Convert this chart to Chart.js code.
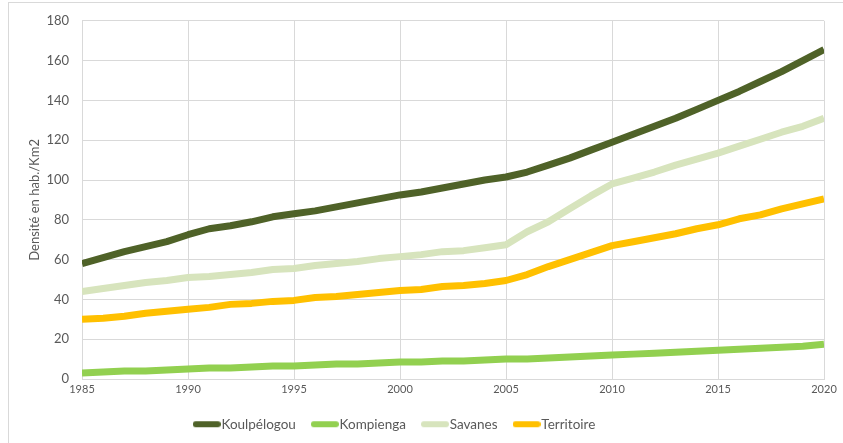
<!DOCTYPE html>
<html lang="fr">
<head>
<meta charset="utf-8">
<title>Densité de population</title>
<script src="https://cdn.jsdelivr.net/npm/chart.js@4"></script>
<style>
  html, body { margin: 0; padding: 0; background: #fff; }
  #wrap { position: relative; width: 843px; height: 443px; overflow: hidden; }
  #frame {
    position: absolute; left: 8px; top: 2px; width: 900px; height: 500px;
    border-left: 1px solid #d9d9d9; border-top: 1px solid #d9d9d9;
    pointer-events: none;
  }
  canvas { position: absolute; left: 0; top: 0; }
</style>
</head>
<body>
<div id="wrap">
  <canvas id="densityChart" width="843" height="443"></canvas>
  <div id="frame"></div>
</div>
<script>
const years = [
  1985, 1986, 1987, 1988, 1989, 1990, 1991, 1992, 1993, 1994, 1995, 1996,
  1997, 1998, 1999, 2000, 2001, 2002, 2003, 2004, 2005, 2006, 2007, 2008,
  2009, 2010, 2011, 2012, 2013, 2014, 2015, 2016, 2017, 2018, 2019, 2020
];

const koulpelogou = [
  58, 61, 64, 66.5, 69, 72.5, 75.5, 77, 79, 81.5, 83, 84.5,
  86.5, 88.5, 90.5, 92.5, 94, 96, 98, 100, 101.5, 104, 107.5, 111,
  115, 119, 123, 127, 131, 135.5, 140, 144.5, 149.5, 154.5, 160, 165.5
];

const kompienga = [
  3, 3.5, 4, 4, 4.5, 5, 5.5, 5.5, 6, 6.5, 6.5, 7,
  7.5, 7.5, 8, 8.5, 8.5, 9, 9, 9.5, 10, 10, 10.5, 11,
  11.5, 12, 12.5, 13, 13.5, 14, 14.5, 15, 15.5, 16, 16.5, 17.5
];

const savanes = [
  44, 45.5, 47, 48.5, 49.5, 51, 51.5, 52.5, 53.5, 55, 55.5, 57,
  58, 59, 60.5, 61.5, 62.5, 64, 64.5, 66, 67.5, 74, 79, 85.5,
  92, 98, 101, 104, 107.5, 110.5, 113.5, 117, 120.5, 124, 127, 131
];

const territoire = [
  30, 30.5, 31.5, 33, 34, 35, 36, 37.5, 38, 39, 39.5, 41,
  41.5, 42.5, 43.5, 44.5, 45, 46.5, 47, 48, 49.5, 52.5, 56.5, 60,
  63.5, 67, 69, 71, 73, 75.5, 77.5, 80.5, 82.5, 85.5, 88, 90.5
];

const seriesNames = ['Koulpélogou', 'Kompienga', 'Savanes', 'Territoire'];
const seriesColors = ['#4f6228', '#92d050', '#d7e4bd', '#ffc000'];
const seriesValues = [koulpelogou, kompienga, savanes, territoire];

const textColor = '#595959';
const gridColor = '#d9d9d9';

function toPoints(values) {
  return values.map((v, i) => ({ x: years[i], y: v }));
}

// small round-capped stroke used as legend marker, wider than the legend box
// so it runs right up to the label text
function legendStroke(color) {
  const c = document.createElement('canvas');
  c.width = 28;
  c.height = 8;
  const g = c.getContext('2d');
  g.strokeStyle = color;
  g.lineWidth = 6;
  g.lineCap = 'round';
  g.beginPath();
  g.moveTo(3, 4);
  g.lineTo(25, 4);
  g.stroke();
  return c;
}

// the legend sits a bit left of the middle of the canvas
const legendShift = {
  id: 'legendShift',
  afterLayout(chart) {
    const lg = chart.legend;
    if (!lg) return;
    lg.left -= 19;
    lg.right -= 19;
  }
};

const ctx = document.getElementById('densityChart').getContext('2d');
const densityChart = new Chart(ctx, {
  type: 'line',
  data: {
    datasets: seriesNames.map((name, i) => ({
      label: name,
      data: toPoints(seriesValues[i]),
      borderColor: seriesColors[i],
      backgroundColor: seriesColors[i],
      borderWidth: 7,
      borderJoinStyle: 'round',
      borderCapStyle: 'butt',
      pointRadius: 0,
      tension: 0,
      fill: false
    }))
  },
  options: {
    responsive: false,
    animation: false,
    devicePixelRatio: 1,
    layout: {
      autoPadding: false,
      padding: { left: 8, right: 19, top: 17, bottom: 2 }
    },
    scales: {
      x: {
        type: 'linear',
        min: 1985,
        max: 2020,
        afterFit(scale) { scale.height = 17.5; },
        ticks: {
          stepSize: 5,
          padding: 4,
          color: textColor,
          font: { family: 'Lato', size: 11 },
          maxRotation: 0,
          callback: v => String(v)
        },
        grid: { color: gridColor, lineWidth: 1, drawTicks: false },
        border: { color: gridColor }
      },
      y: {
        min: 0,
        max: 180,
        afterFit(scale) { scale.width = 74; },
        ticks: {
          stepSize: 20,
          padding: 13,
          color: textColor,
          font: { family: 'Lato', size: 13 }
        },
        grid: { color: gridColor, lineWidth: 1, drawTicks: false },
        border: { display: false },
        title: {
          display: true,
          text: 'Densité en hab./Km2',
          color: textColor,
          font: { family: 'Lato', size: 13 },
          padding: { top: 19, bottom: 0 }
        }
      }
    },
    plugins: {
      legend: {
        position: 'bottom',
        labels: {
          usePointStyle: true,
          pointStyleWidth: 16,
          padding: 21,
          color: textColor,
          font: { family: 'Lato', size: 13.5 },
          generateLabels(chart) {
            const items = Chart.defaults.plugins.legend.labels.generateLabels(chart);
            return items.map((item, i) => ({ ...item, pointStyle: legendStroke(seriesColors[i]) }));
          }
        }
      },
      tooltip: { enabled: false }
    }
  },
  plugins: [legendShift]
});
</script>
</body>
</html>
